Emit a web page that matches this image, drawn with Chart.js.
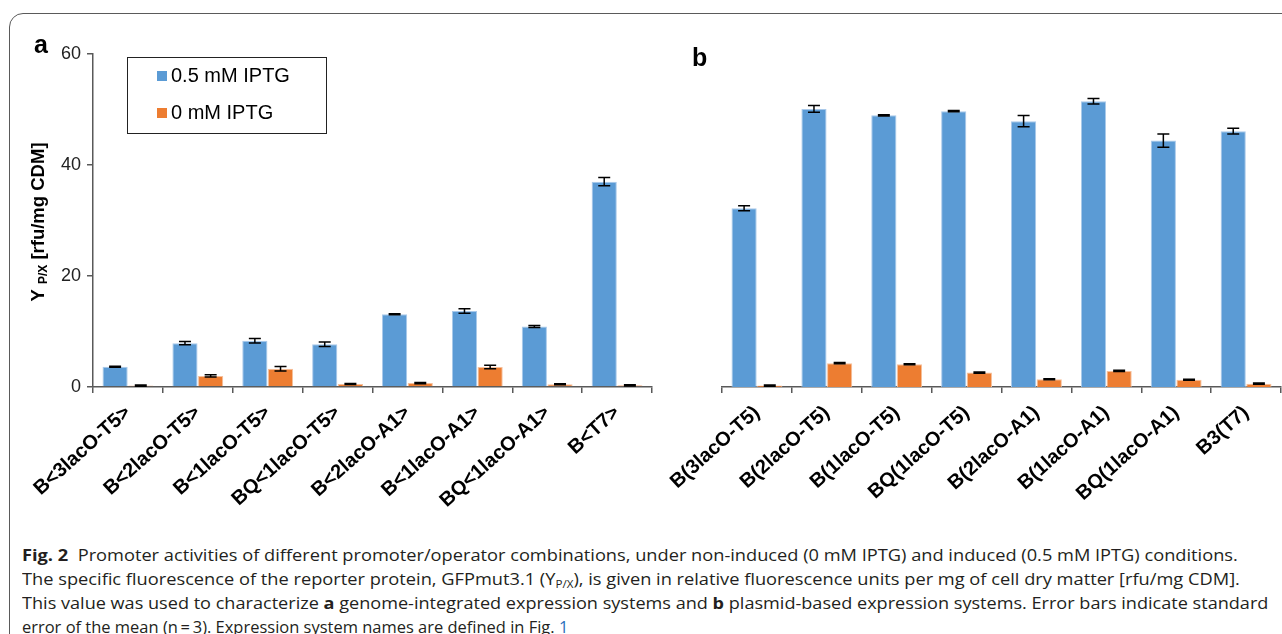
<!DOCTYPE html>
<html>
<head>
<meta charset="utf-8">
<script src="https://cdn.jsdelivr.net/npm/chart.js@4.4.1/dist/chart.umd.min.js"></script>
<style>
  html, body { margin:0; padding:0; background:#fff; }
  body { width:1282px; height:634px; position:relative; overflow:hidden; font-family:"Liberation Sans", Arial, sans-serif; }
  #frame { position:absolute; left:9px; top:13px; width:1320px; height:700px; border:1.5px solid #5a5a5a; border-radius:14px; box-sizing:border-box; }
  canvas { position:absolute; }
  #cA { left:0; top:0; }
  #cB { left:632px; top:0; }
  .plabel { position:absolute; font-family:"Liberation Sans", Arial, sans-serif; font-weight:bold; font-size:25px; color:#000; line-height:1; }
  .cap { position:absolute; left:22px; white-space:nowrap; font-family:"Open Sans", "Noto Sans", sans-serif; font-size:16.5px; color:#231f20; transform-origin:0 50%; line-height:20px; }
  .cap b { font-weight:700; }
  .cap sub { font-size:10.5px; vertical-align:-3px; line-height:0; }
  .blue { color:#2a6ebb; }
</style>
</head>
<body>
<div id="frame"></div>
<canvas id="cA" width="665" height="530"></canvas>
<canvas id="cB" width="650" height="530"></canvas>
<div class="plabel" style="left:34px; top:32px;">a</div>
<div class="plabel" style="left:692px; top:45px;">b</div>

<div class="cap" id="l1" data-w="1216" style="top:545px;"><b>Fig. 2</b>&nbsp; Promoter activities of different promoter/operator combinations, under non-induced (0 mM IPTG) and induced (0.5 mM IPTG) conditions.</div>
<div class="cap" id="l2" data-w="1218" style="top:569px;">The specific fluorescence of the reporter protein, GFPmut3.1 (Y<sub>P/X</sub>), is given in relative fluorescence units per mg of cell dry matter [rfu/mg CDM].</div>
<div class="cap" id="l3" data-w="1246" style="top:593px;">This value was used to characterize <b>a</b> genome-integrated expression systems and <b>b</b> plasmid-based expression systems. Error bars indicate standard</div>
<div class="cap" id="l4" data-w="546" style="top:617px;">error of the mean (n&#8201;=&#8201;3). Expression system names are defined in Fig. <span class="blue">1</span></div>

<script>
// ---- Data ----
const seriesNames = ['0.5 mM IPTG', '0 mM IPTG'];
const catsA = ['B<3lacO-T5>', 'B<2lacO-T5>', 'B<1lacO-T5>', 'BQ<1lacO-T5>', 'B<2lacO-A1>', 'B<1lacO-A1>', 'BQ<1lacO-A1>', 'B<T7>'];
const catsB = ['B(3lacO-T5)', 'B(2lacO-T5)', 'B(1lacO-T5)', 'BQ(1lacO-T5)', 'B(2lacO-A1)', 'B(1lacO-A1)', 'BQ(1lacO-A1)', 'B3(T7)'];
const inducedA   = [3.65, 7.9, 8.35, 7.7, 13.1, 13.7, 10.9, 37.0];
const inducedErrA = [0.1, 0.3, 0.4, 0.4, 0.1, 0.4, 0.2, 0.75];
const basalA     = [0.25, 2.0, 3.3, 0.55, 0.7, 3.6, 0.5, 0.3];
const basalErrA  = [0.1, 0.2, 0.4, 0.1, 0.1, 0.3, 0.1, 0.1];
const inducedB   = [32.2, 50.1, 48.95, 49.7, 47.9, 51.5, 44.4, 46.1];
const inducedErrB = [0.45, 0.6, 0.1, 0.1, 1.0, 0.5, 1.2, 0.5];
const basalB     = [0.25, 4.3, 4.1, 2.6, 1.4, 2.9, 1.3, 0.6];
const basalErrB  = [0.1, 0.1, 0.1, 0.1, 0.1, 0.1, 0.1, 0.1];
const yTicks = [0, 20, 40, 60];

const BLUE = '#5b9bd5', ORANGE = '#ed7d31';
const AXIS = '#595959';

// fit caption lines
document.querySelectorAll('.cap').forEach(el => {
  const w = el.scrollWidth; const t = +el.dataset.w;
  el.style.transform = 'scaleX(' + (t / w) + ')';
});

const errorBars = {
  id: 'errorBars',
  afterDatasetsDraw(chart) {
    const ctx = chart.ctx, ys = chart.scales.y;
    chart.data.datasets.forEach((ds, i) => {
      const meta = chart.getDatasetMeta(i);
      meta.data.forEach((el, j) => {
        const v = ds.data[j], e = ds.errors[j];
        const y1 = ys.getPixelForValue(v + e), y2 = ys.getPixelForValue(v - e);
        ctx.save();
        ctx.strokeStyle = '#000'; ctx.lineWidth = 1.5;
        ctx.beginPath();
        ctx.moveTo(el.x, y1); ctx.lineTo(el.x, y2);
        ctx.moveTo(el.x - 6, y1); ctx.lineTo(el.x + 6, y1);
        ctx.moveTo(el.x - 6, y2); ctx.lineTo(el.x + 6, y2);
        ctx.stroke();
        ctx.restore();
      });
    });
  }
};

const legendBox = {
  id: 'legendBox',
  afterDraw(chart) {
    const ctx = chart.ctx;
    ctx.save();
    ctx.strokeStyle = '#222'; ctx.lineWidth = 1;
    ctx.strokeRect(127.5, 57.5, 199, 76);
    const rows = [76, 113];
    chart.data.datasets.forEach((ds, i) => {
      ctx.fillStyle = ds.backgroundColor;
      ctx.fillRect(157, rows[i] - 5, 10, 10);
      ctx.fillStyle = '#000';
      ctx.font = '20px "Liberation Sans", Arial, sans-serif';
      ctx.textBaseline = 'middle';
      ctx.textAlign = 'left';
      ctx.fillText(ds.label, 171, rows[i]);
    });
    ctx.restore();
  }
};

const yTitle = {
  id: 'yTitle',
  afterDraw(chart) {
    const ctx = chart.ctx;
    ctx.save();
    ctx.translate(37, 222);
    ctx.rotate(-Math.PI / 2);
    const big = 'bold 18.5px "Liberation Sans", Arial, sans-serif';
    const small = 'bold 12px "Liberation Sans", Arial, sans-serif';
    const p1 = 'Y ', p2 = 'P/X', p3 = ' [rfu/mg CDM]';
    ctx.font = big; const w1 = ctx.measureText(p1).width, w3 = ctx.measureText(p3).width;
    ctx.font = small; const w2 = ctx.measureText(p2).width;
    let x = -(w1 + w2 + w3) / 2;
    ctx.fillStyle = '#000'; ctx.textBaseline = 'alphabetic'; ctx.textAlign = 'left';
    ctx.font = big; ctx.fillText(p1, x, 7); x += w1;
    ctx.font = small; ctx.fillText(p2, x, 10); x += w2;
    ctx.font = big; ctx.fillText(p3, x, 7);
    ctx.restore();
  }
};

function makeDatasets(ind, indErr, bas, basErr) {
  return [
    { label: seriesNames[0], data: ind, errors: indErr, backgroundColor: BLUE, borderColor: '#a9c9ea', borderWidth: 1,
      categoryPercentage: 0.735, barPercentage: 0.98 },
    { label: seriesNames[1], data: bas, errors: basErr, backgroundColor: ORANGE, borderColor: '#f6c09c', borderWidth: 1,
      categoryPercentage: 0.735, barPercentage: 0.98 }
  ];
}

function xScale() {
  return {
    offset: true,
    grid: { display: true, drawOnChartArea: false, tickLength: 6, color: AXIS, lineWidth: 1.5, offset: true },
    border: { display: true, color: AXIS, width: 1.5 },
    ticks: { autoSkip: false, maxRotation: 42, minRotation: 42, color: '#000', padding: 8, labelOffset: 0,
             font: { family: '"Liberation Sans", Arial, sans-serif', size: 20, weight: 'bold' } },
    afterFit: s => { s.height = 143; }
  };
}

function yScale(visible, width) {
  return {
    display: true, min: 0, max: 60,
    afterBuildTicks: s => { s.ticks = yTicks.map(v => ({ value: v })); },
    ticks: { display: visible, color: '#222', padding: 6, font: { family: '"Liberation Sans", Arial, sans-serif', size: 18 } },
    grid: { display: visible, drawOnChartArea: false, tickLength: 6, color: AXIS, lineWidth: 1.5 },
    border: { display: visible, color: AXIS, width: 1.5 },
    afterFit: s => { s.width = width; }
  };
}

function opts(visible, width, padRight) {
  return {
    responsive: false, animation: false, devicePixelRatio: 1,
    events: [],
    layout: { padding: { left: 0, right: padRight, top: 54, bottom: 0 } },
    plugins: { legend: { display: false }, tooltip: { enabled: false } },
    scales: { x: xScale(), y: yScale(visible, width) }
  };
}

new Chart(document.getElementById('cA'), {
  type: 'bar',
  data: { labels: catsA, datasets: makeDatasets(inducedA, inducedErrA, basalA, basalErrA) },
  options: opts(true, 93, 13),
  plugins: [errorBars, legendBox, yTitle]
});

new Chart(document.getElementById('cB'), {
  type: 'bar',
  data: { labels: catsB, datasets: makeDatasets(inducedB, inducedErrB, basalB, basalErrB) },
  options: opts(false, 90, 1),
  plugins: [errorBars]
});
</script>
</body>
</html>
